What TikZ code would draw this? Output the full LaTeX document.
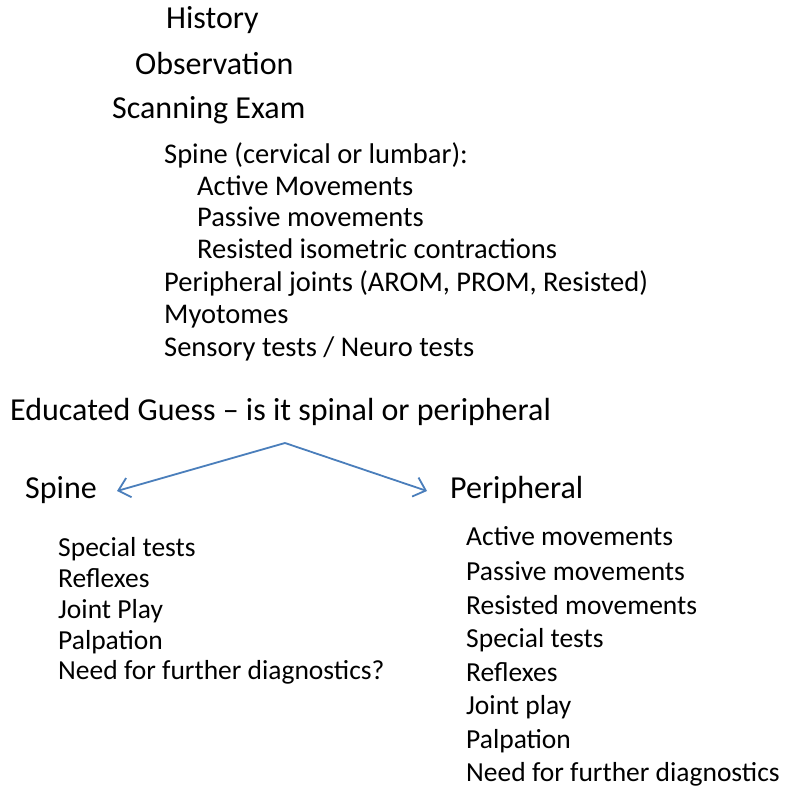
\documentclass[tikz,border=0pt]{standalone}
\usepackage{fontspec}
\setmainfont{Carlito}
\usetikzlibrary{arrows.meta, positioning}

\definecolor{officeblue}{HTML}{4A7EBB}
\tikzset{
    item/.style={anchor=mid west, inner sep=0pt, font=\fontsize{27.5}{31}\selectfont},
    head/.style={anchor=mid west, inner sep=0pt, font=\fontsize{32}{36}\selectfont},
    sub/.style={anchor=mid west, inner sep=0pt, font=\fontsize{28.5}{32}\selectfont},
    branch/.style={draw=officeblue, line width=1.8pt, -{Straight Barb[length=11pt, width=20pt]}}
}

\begin{document}
\begin{tikzpicture}[x=1pt, y=-1pt]
    \useasboundingbox (0,0) rectangle (788,787);

    % steps of the exam
    \node[head] (history) at (166,26) {History};
    \node[head] (obs) at (135,72) {Observation};
    \node[head] (scan) at (112,116) {Scanning Exam};
    \node[sub] (spinescan) at (164,161) {Spine (cervical or lumbar):};
    \node[sub] (active) at (197,193) {Active Movements};
    \node[sub] (passive) at (197,224) {Passive movements};
    \node[sub] (resisted) at (197,256) {Resisted isometric contractions};
    \node[sub] (joints) at (164,289) {Peripheral joints (AROM, PROM, Resisted)};
    \node[sub] (myo) at (164,321) {Myotomes};
    \node[sub] (sens) at (164,354) {Sensory tests / Neuro tests};

    \node[head] (guess) at (10,418) {Educated Guess -- is it spinal or peripheral};
    \coordinate (apex) at (285,443);

    \node[head] (spine) at (25,496) {Spine};
    \node[head] (periph) at (450,496) {Peripheral};
    \coordinate (spinetip) at (117,491);
    \coordinate (periphtip) at (427,491);

    \draw[branch] (apex) -- (spinetip);
    \draw[branch] (apex) -- (periphtip);

    % spine branch
    \node[item] (s1) at (58,554) {Special tests};
    \node[item] (s2) at (58,585) {Reflexes};
    \node[item] (s3) at (58,616) {Joint Play};
    \node[item] (s4) at (58,647) {Palpation};
    \node[item] (s5) at (58,677) {Need for further diagnostics?};

    % peripheral branch
    \node[item] (p1) at (466,543) {Active movements};
    \node[item] (p2) at (466,578) {Passive movements};
    \node[item] (p3) at (466,612) {Resisted movements};
    \node[item] (p4) at (466,645) {Special tests};
    \node[item] (p5) at (466,679) {Reflexes};
    \node[item] (p6) at (466,712) {Joint play};
    \node[item] (p7) at (466,746) {Palpation};
    \node[item] (p8) at (466,779) {Need for further diagnostics};
\end{tikzpicture}
\end{document}
